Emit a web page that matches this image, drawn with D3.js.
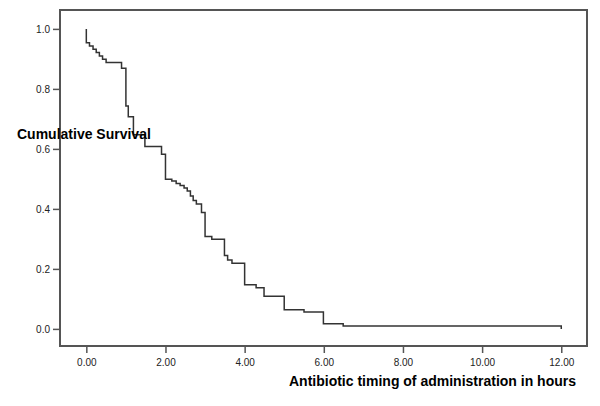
<!DOCTYPE html>
<html>
<head>
<meta charset="utf-8">
<script src="https://cdn.jsdelivr.net/npm/d3@7"></script>
<style>
  body { margin: 0; background: #fff; }
  svg { display: block; font-family: "Liberation Sans", Arial, sans-serif; }
</style>
</head>
<body>
<svg id="chart"></svg>
<script>
// event times (hours) and cumulative survival after each step
const times = [0, 0, 0.08, 0.17, 0.25, 0.33, 0.41, 0.5, 0.89, 1.0, 1.06, 1.19, 1.48, 1.9, 2.0,
  2.16, 2.27, 2.37, 2.47, 2.55, 2.63, 2.7, 2.78, 2.91, 3.0, 3.17, 3.49, 3.57, 3.68,
  4.0, 4.29, 4.49, 5.0, 5.5, 5.99, 6.49, 12.0, 12.0];
const survival = [1.0, 0.954, 0.943, 0.932, 0.921, 0.91, 0.899, 0.888, 0.869, 0.743, 0.707, 0.647, 0.608, 0.582, 0.499,
  0.493, 0.485, 0.478, 0.47, 0.46, 0.443, 0.428, 0.416, 0.388, 0.308, 0.299, 0.245, 0.23, 0.219,
  0.147, 0.137, 0.109, 0.064, 0.056, 0.017, 0.01, 0.01, 0.0];
const xTicks = [0, 2, 4, 6, 8, 10, 12];
const yTicks = [0, 0.2, 0.4, 0.6, 0.8, 1.0];

const width = 600, height = 406;
const frame = {left: 60, right: 587, top: 10, bottom: 346};

const svg = d3.select('#chart').attr('width', width).attr('height', height);

const x = d3.scaleLinear().domain([-0.665, 12.65]).range([frame.left, frame.right]);
const y = d3.scaleLinear().domain([-0.057, 1.063]).range([frame.bottom, frame.top]);

// frame
svg.append('rect')
  .attr('x', frame.left).attr('y', frame.top)
  .attr('width', frame.right - frame.left).attr('height', frame.bottom - frame.top)
  .attr('fill', 'none').attr('stroke', '#555').attr('stroke-width', 2);

// y axis
const yAxis = svg.append('g')
  .attr('transform', `translate(${frame.left},0)`)
  .call(d3.axisLeft(y).tickValues(yTicks).tickFormat(d3.format('.1f')).tickSize(7).tickPadding(3));
yAxis.select('.domain').remove();
yAxis.selectAll('line').attr('stroke', '#555').attr('stroke-width', 1.5);
yAxis.selectAll('text').attr('font-size', 10).attr('fill', '#222')
  .attr('font-family', '"Liberation Sans", Arial, sans-serif');

// x axis
const xAxis = svg.append('g')
  .attr('transform', `translate(0,${frame.bottom})`)
  .call(d3.axisBottom(x).tickValues(xTicks).tickFormat(d3.format('.2f')).tickSize(7).tickPadding(6));
xAxis.select('.domain').remove();
xAxis.selectAll('line').attr('stroke', '#555').attr('stroke-width', 1.5);
xAxis.selectAll('text').attr('font-size', 10).attr('fill', '#222')
  .attr('font-family', '"Liberation Sans", Arial, sans-serif');

// survival step curve
const pts = times.map((t, i) => [t, survival[i]]);
const line = d3.line()
  .x(d => x(d[0]))
  .y(d => y(d[1]))
  .curve(d3.curveStepAfter);
svg.append('path')
  .datum(pts)
  .attr('d', line)
  .attr('fill', 'none')
  .attr('stroke', '#333')
  .attr('stroke-width', 1.5);

// axis titles
svg.append('text')
  .attr('x', 17).attr('y', 139)
  .attr('font-size', 14).attr('font-weight', 'bold').attr('fill', '#000')
  .text('Cumulative Survival');

svg.append('text')
  .attr('x', 576).attr('y', 386)
  .attr('text-anchor', 'end')
  .attr('font-size', 14).attr('font-weight', 'bold').attr('fill', '#000')
  .text('Antibiotic timing of administration in hours');
</script>
</body>
</html>
